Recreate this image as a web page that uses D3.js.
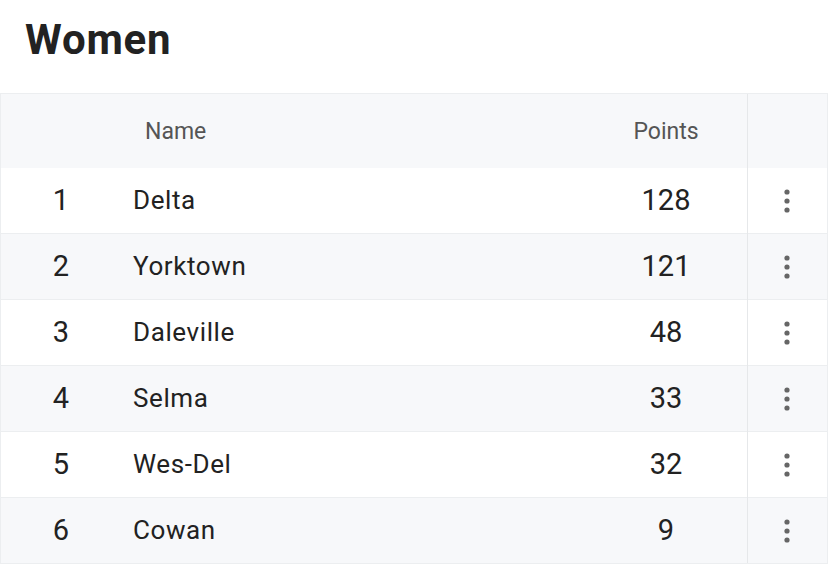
<!DOCTYPE html>
<html><head><meta charset="utf-8">
<script src="https://cdn.jsdelivr.net/npm/d3@7"></script>
<style>body{margin:0;background:#fff;font-family:Roboto,"Noto Sans",sans-serif;}</style>
</head><body><svg id="chart" width="828" height="570"></svg>
<script>
var ranks = [1, 2, 3, 4, 5, 6];
var names = ["Delta", "Yorktown", "Daleville", "Selma", "Wes-Del", "Cowan"];
var points = [128, 121, 48, 33, 32, 9];
var headers = ["Name", "Points"];

var svg = d3.select("#chart");
var rowH = 66, top0 = 93, headH = 75;

svg.append("text").attr("x", 25).attr("y", 54)
  .attr("font-size", 42).attr("font-weight", 700).attr("fill", "#222")
  .attr("letter-spacing", 0.8)
  .text("Women");

// header
svg.append("rect").attr("x", 0).attr("y", top0).attr("width", 828).attr("height", headH)
  .attr("fill", "#f7f8fa");
svg.append("text").attr("x", 145).attr("y", 139).attr("font-size", 23).attr("fill", "#555")
  .text(headers[0]);
svg.append("text").attr("x", 666).attr("y", 139).attr("font-size", 23).attr("fill", "#555")
  .attr("text-anchor", "middle").text(headers[1]);

var y = d3.scaleBand().domain(d3.range(ranks.length))
  .range([top0 + headH, top0 + headH + rowH * ranks.length]);

var rows = svg.selectAll("g.row").data(ranks).enter().append("g")
  .attr("class", "row")
  .attr("transform", function(d, i){ return "translate(0," + y(i) + ")"; });

rows.append("rect").attr("width", 828).attr("height", y.bandwidth())
  .attr("fill", function(d, i){ return i % 2 ? "#f7f8fa" : "#fff"; });
rows.append("line").attr("x1", 0).attr("x2", 828).attr("y1", y.bandwidth() - 0.5).attr("y2", y.bandwidth() - 0.5)
  .attr("stroke", "#eceef0");

var cy = y.bandwidth() / 2 + 9;
rows.append("text").attr("x", 61).attr("y", cy).attr("text-anchor", "middle")
  .attr("font-size", 29).attr("fill", "#222").text(function(d){ return d; });
rows.append("text").attr("x", 133).attr("y", cy - 1)
  .attr("font-size", 26).attr("fill", "#222").attr("letter-spacing", 0.6)
  .text(function(d, i){ return names[i]; });
rows.append("text").attr("x", 666).attr("y", cy)
  .attr("text-anchor", "middle").attr("font-size", 29).attr("fill", "#222")
  .text(function(d, i){ return points[i]; });

// kebab menu dots
rows.selectAll("circle").data([-9, 0, 9]).enter().append("circle")
  .attr("cx", 787).attr("cy", function(o){ return y.bandwidth() / 2 + o; })
  .attr("r", 2.6).attr("fill", "#666");

// borders
svg.append("line").attr("x1", 747.5).attr("x2", 747.5).attr("y1", top0).attr("y2", top0 + headH + rowH * 6)
  .attr("stroke", "#e6e8ea");
svg.append("rect").attr("x", 0.5).attr("y", top0 + 0.5).attr("width", 827).attr("height", headH + rowH * 6 - 1)
  .attr("fill", "none").attr("stroke", "#eceef0");
</script></body></html>
